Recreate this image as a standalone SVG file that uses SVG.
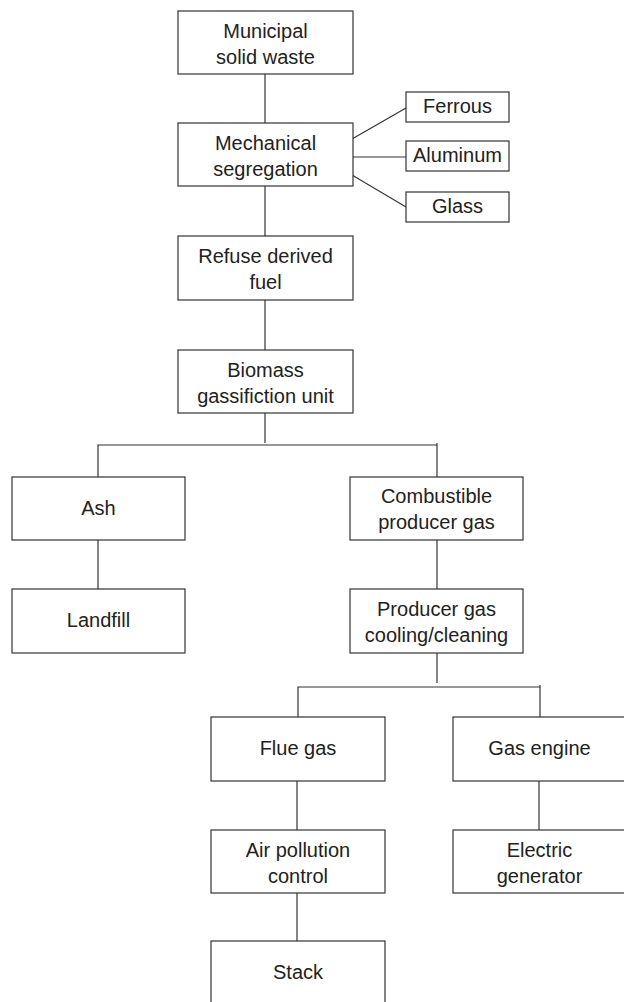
<svg xmlns="http://www.w3.org/2000/svg" width="624" height="1002" viewBox="0 0 624 1002">
<style>
.box{fill:#fff;stroke:#333;stroke-width:1.2}
.t{font-family:"Liberation Sans",Arial,sans-serif;font-size:20px;fill:#222;text-anchor:middle}
.c{stroke:#333;stroke-width:1.2;fill:none}
</style>
<rect width="624" height="1002" fill="#fff"/>
<g id="connectors">
<line class="c" x1="265" y1="74" x2="265" y2="123"/>
<line class="c" x1="265" y1="186" x2="265" y2="236"/>
<line class="c" x1="265" y1="300" x2="265" y2="350"/>
<line class="c" x1="265" y1="413" x2="265" y2="443"/>
<line class="c" x1="352" y1="139" x2="406" y2="108"/>
<line class="c" x1="352" y1="157" x2="406" y2="157"/>
<line class="c" x1="352" y1="175" x2="406" y2="207"/>
<polyline class="c" points="98,477 98,445 437,445"/>
<line class="c" x1="437" y1="443" x2="437" y2="477"/>
<line class="c" x1="98" y1="540" x2="98" y2="589"/>
<line class="c" x1="437" y1="540" x2="437" y2="589"/>
<line class="c" x1="437" y1="653" x2="437" y2="683"/>
<polyline class="c" points="298,717 298,687 540,687"/>
<line class="c" x1="540" y1="685" x2="540" y2="717"/>
<line class="c" x1="297" y1="781" x2="297" y2="830"/>
<line class="c" x1="297" y1="893" x2="297" y2="941"/>
<line class="c" x1="539" y1="781" x2="539" y2="830"/>
</g>
<g id="municipal"><rect class="box" x="178" y="11" width="175" height="63"/><text class="t" x="265.5" y="38">Municipal</text><text class="t" x="265.5" y="64">solid waste</text></g>
<g id="mechanical"><rect class="box" x="178" y="123" width="175" height="63"/><text class="t" x="265.5" y="150">Mechanical</text><text class="t" x="265.5" y="176">segregation</text></g>
<g id="ferrous"><rect class="box" x="406" y="92" width="103" height="30"/><text class="t" x="457.5" y="113">Ferrous</text></g>
<g id="aluminum"><rect class="box" x="406" y="141" width="103" height="30"/><text class="t" x="457.5" y="162">Aluminum</text></g>
<g id="glass"><rect class="box" x="406" y="192" width="103" height="30"/><text class="t" x="457.5" y="213">Glass</text></g>
<g id="refuse"><rect class="box" x="178" y="236" width="175" height="64"/><text class="t" x="265.5" y="263">Refuse derived</text><text class="t" x="265.5" y="289">fuel</text></g>
<g id="biomass"><rect class="box" x="178" y="350" width="175" height="63"/><text class="t" x="265.5" y="377">Biomass</text><text class="t" x="265.5" y="403">gassifiction unit</text></g>
<g id="ash"><rect class="box" x="12" y="477" width="173" height="63"/><text class="t" x="98.5" y="515">Ash</text></g>
<g id="landfill"><rect class="box" x="12" y="589" width="173" height="64"/><text class="t" x="98.5" y="627">Landfill</text></g>
<g id="combustible"><rect class="box" x="350" y="477" width="173" height="63"/><text class="t" x="436.5" y="503">Combustible</text><text class="t" x="436.5" y="529">producer gas</text></g>
<g id="cooling"><rect class="box" x="350" y="589" width="173" height="64"/><text class="t" x="436.5" y="616">Producer gas</text><text class="t" x="436.5" y="642">cooling/cleaning</text></g>
<g id="flue"><rect class="box" x="211" y="717" width="174" height="64"/><text class="t" x="298" y="755">Flue gas</text></g>
<g id="gasengine"><rect class="box" x="453" y="717" width="174" height="64"/><text class="t" x="539.5" y="755">Gas engine</text></g>
<g id="airpollution"><rect class="box" x="211" y="830" width="174" height="63"/><text class="t" x="298" y="857">Air pollution</text><text class="t" x="298" y="883">control</text></g>
<g id="electric"><rect class="box" x="453" y="830" width="174" height="63"/><text class="t" x="539.5" y="857">Electric</text><text class="t" x="539.5" y="883">generator</text></g>
<g id="stack"><rect class="box" x="211" y="941" width="174" height="64"/><text class="t" x="298" y="979">Stack</text></g>
</svg>
